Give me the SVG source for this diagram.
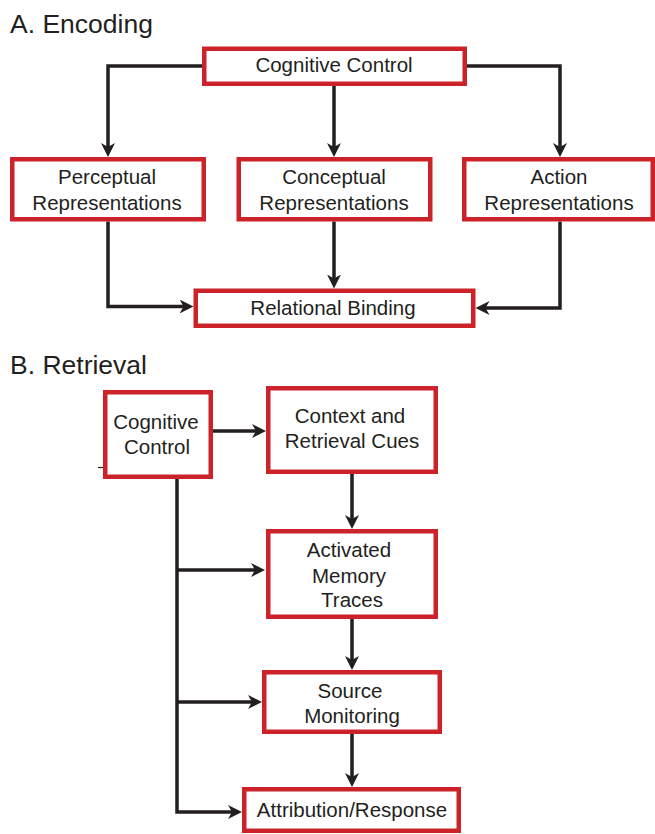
<svg xmlns="http://www.w3.org/2000/svg" width="655" height="834" viewBox="0 0 655 834">
<style>
.box{fill:#fff;stroke:#cc2229;stroke-width:4.5}
.t{font-family:"Liberation Sans",Arial,sans-serif;font-size:20.5px;fill:#231f20;text-anchor:middle}
.h{font-family:"Liberation Sans",Arial,sans-serif;font-size:26.5px;fill:#231f20}
.c{fill:none;stroke:#231f20;stroke-width:3.5;marker-end:url(#ah)}
</style>
<defs>
<marker id="ah" markerUnits="userSpaceOnUse" markerWidth="16" markerHeight="16" refX="9" refY="7" orient="auto">
<path d="M0,0 L14,7 L0,14 L4,7 z" fill="#231f20"/>
</marker>
</defs>
<rect width="655" height="834" fill="#fff"/>
<text class="h" x="10" y="33">A. Encoding</text>
<text class="h" x="10" y="374">B. Retrieval</text>
<g id="connectors">
<path class="c" d="M204,66 H108 V152"/>
<path class="c" d="M334,86 V152"/>
<path class="c" d="M467,66 H560 V152"/>
<path class="c" d="M108,221.5 V306.5 H188.5"/>
<path class="c" d="M334,221.5 V283.5"/>
<path class="c" d="M560,221.5 V308 H480.5"/>
<path class="c" d="M213,431 H261"/>
<path class="c" d="M352,474 V524"/>
<path class="c" d="M177,479 V812 H237"/>
<path class="c" d="M177,570 H260"/>
<path class="c" d="M177,702 H257"/>
<path class="c" d="M352,619 V665"/>
<path class="c" d="M352,734 V782"/>
<path d="M98,467.5 H103" stroke="#231f20" stroke-width="1.2"/>
</g>
<g id="a-cognitive-control">
<rect class="box" x="204.25" y="48.75" width="260.5" height="35"/>
<text class="t" x="334" y="72">Cognitive Control</text>
</g>
<g id="perceptual">
<rect class="box" x="12.25" y="159.25" width="191.5" height="60"/>
<text class="t" x="107" y="184">Perceptual</text>
<text class="t" x="107" y="210">Representations</text>
</g>
<g id="conceptual">
<rect class="box" x="238.75" y="159.25" width="191.5" height="60"/>
<text class="t" x="334" y="184">Conceptual</text>
<text class="t" x="334" y="210">Representations</text>
</g>
<g id="action">
<rect class="box" x="464.25" y="159.25" width="188.5" height="60"/>
<text class="t" x="559" y="184">Action</text>
<text class="t" x="559" y="210">Representations</text>
</g>
<g id="relational-binding">
<rect class="box" x="195.75" y="290.75" width="277.5" height="35"/>
<text class="t" x="333" y="315">Relational Binding</text>
</g>
<g id="b-cognitive-control">
<rect class="box" x="105.25" y="392.25" width="105.5" height="84.5"/>
<text class="t" x="156" y="429">Cognitive</text>
<text class="t" x="157" y="454">Control</text>
</g>
<g id="context">
<rect class="box" x="268.25" y="388.25" width="167.5" height="83.5"/>
<text class="t" x="350" y="423">Context and</text>
<text class="t" x="352" y="448">Retrieval Cues</text>
</g>
<g id="activated">
<rect class="box" x="268.25" y="531.25" width="167.5" height="85.5"/>
<text class="t" x="349" y="557">Activated</text>
<text class="t" x="349" y="583">Memory</text>
<text class="t" x="352" y="607">Traces</text>
</g>
<g id="source">
<rect class="box" x="264.25" y="672.25" width="175.5" height="59.5"/>
<text class="t" x="350" y="698">Source</text>
<text class="t" x="352" y="723">Monitoring</text>
</g>
<g id="attribution">
<rect class="box" x="244.25" y="789.25" width="214.5" height="41.5"/>
<text class="t" x="352" y="817">Attribution/Response</text>
</g>
</svg>
